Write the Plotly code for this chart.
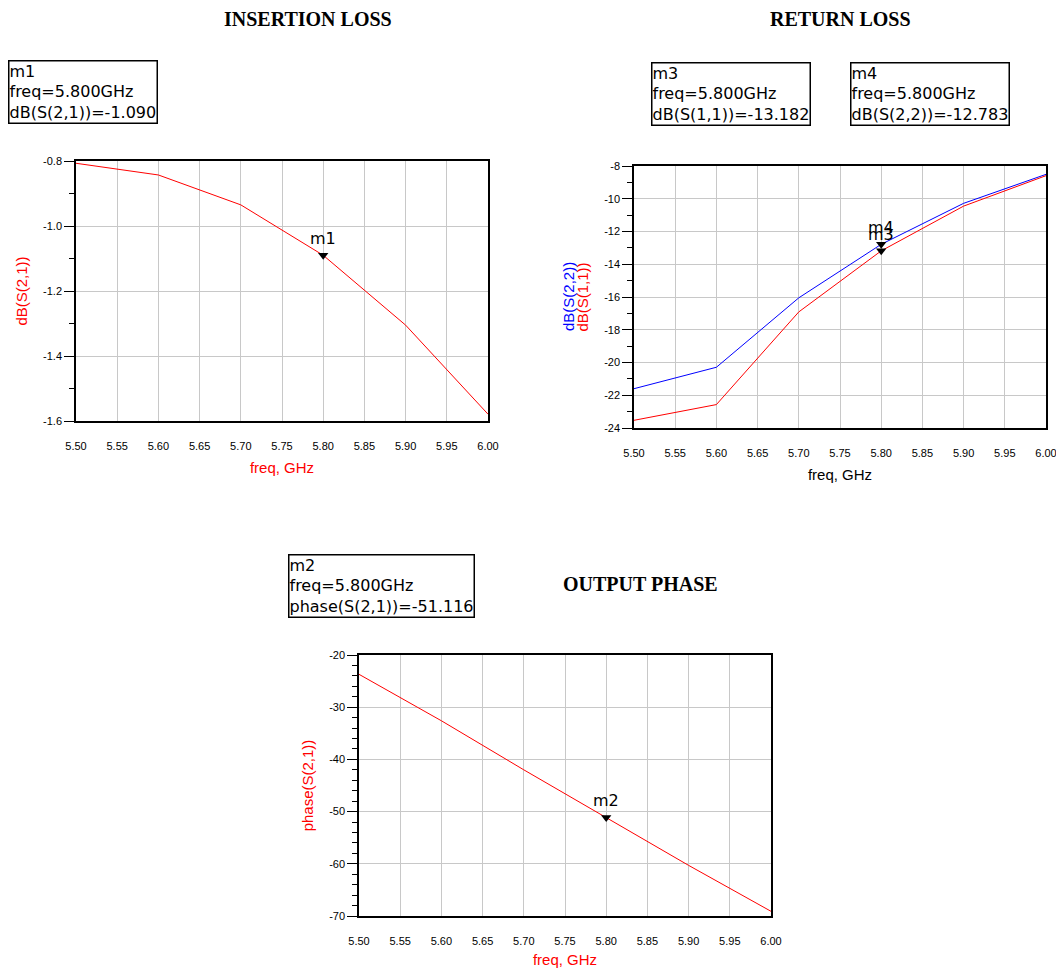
import plotly.graph_objects as go

# ---------------- data ----------------
freq = [5.50, 5.60, 5.70, 5.80, 5.90, 6.00]
dB_S21 = [-0.807, -0.843, -0.935, -1.090, -1.305, -1.579]
dB_S11 = [-23.53, -22.57, -16.91, -13.182, -10.45, -8.59]
dB_S22 = [-21.60, -20.29, -16.05, -12.783, -10.28, -8.51]
phase_S21 = [-23.7, -32.6, -42.0, -51.116, -60.3, -69.1]

marker_freq = 5.80
m1_val = -1.090
m2_val = -51.116
m3_val = -13.182
m4_val = -12.783

x_ticks = [5.50, 5.55, 5.60, 5.65, 5.70, 5.75, 5.80, 5.85, 5.90, 5.95, 6.00]
y1_ticks = [-1.6, -1.4, -1.2, -1.0, -0.8]
y2_ticks = [-24, -22, -20, -18, -16, -14, -12, -10, -8]
y3_ticks = [-70, -60, -50, -40, -30, -20]

RED = "#ff0000"
BLUE = "#0000ff"
# page body has an 8px margin; figure is sized to fit inside the 1064x976 window
OFF = 8
W, H = 1064 - 2 * OFF, 976 - 2 * OFF

fig = go.Figure()

fig.add_trace(go.Scatter(x=freq, y=dB_S21, mode="lines", line=dict(color=RED, width=1),
                         xaxis="x", yaxis="y", showlegend=False))
fig.add_trace(go.Scatter(x=freq, y=dB_S22, mode="lines", line=dict(color=BLUE, width=1),
                         xaxis="x2", yaxis="y2", showlegend=False))
fig.add_trace(go.Scatter(x=freq, y=dB_S11, mode="lines", line=dict(color=RED, width=1),
                         xaxis="x2", yaxis="y2", showlegend=False))
fig.add_trace(go.Scatter(x=freq, y=phase_S21, mode="lines", line=dict(color=RED, width=1),
                         xaxis="x3", yaxis="y3", showlegend=False))

tri = dict(symbol="triangle-down", color="black", size=9)
fig.add_trace(go.Scatter(x=[marker_freq], y=[m1_val], mode="markers", marker=tri,
                         xaxis="x", yaxis="y", showlegend=False))
fig.add_trace(go.Scatter(x=[marker_freq, marker_freq], y=[m4_val, m3_val], mode="markers", marker=tri,
                         xaxis="x2", yaxis="y2", showlegend=False))
fig.add_trace(go.Scatter(x=[marker_freq], y=[m2_val], mode="markers", marker=tri,
                         xaxis="x3", yaxis="y3", showlegend=False))

tickfont = dict(family="Liberation Sans", size=11, color="black")
titlefont_red = dict(family="Liberation Sans", size=15, color=RED)
titlefont_black = dict(family="Liberation Sans", size=15, color="black")


def xaxis(domain, anchor, tfont):
    return dict(domain=domain, anchor=anchor, range=[5.5, 6.0], tickmode="array",
                tickvals=x_ticks, ticktext=["%.2f" % v for v in x_ticks],
                showgrid=True, gridcolor="#c8c8c8", gridwidth=1,
                showline=True, mirror=True, linecolor="black", linewidth=1.5,
                ticks="", ticklabelstandoff=14, tickfont=tickfont, zeroline=False,
                automargin=False, ticklabeloverflow="allow",
                title=dict(text="freq, GHz", font=tfont, standoff=12))


def yaxis(domain, anchor, rng, tickvals, fmt, minor_dtick, title, tfont):
    return dict(domain=domain, anchor=anchor, range=rng, tickmode="array",
                tickvals=tickvals, ticktext=[fmt % v for v in tickvals],
                showgrid=True, gridcolor="#c8c8c8", gridwidth=1,
                showline=True, mirror=True, linecolor="black", linewidth=1.5,
                ticks="outside", ticklen=10, tickwidth=1, tickcolor="black",
                minor=dict(tickmode="linear", tick0=rng[0], dtick=minor_dtick, ticks="outside",
                           ticklen=5, tickwidth=1, tickcolor="black", showgrid=False),
                tickfont=tickfont, zeroline=False, automargin=False,
                title=dict(text=title, font=tfont, standoff=12))


def px_x(p):
    return (p - OFF) / W


def px_y(p):
    return 1 - (p - OFF) / H


fig.update_layout(
    width=W, height=H,
    margin=dict(l=0, r=0, t=0, b=0),
    paper_bgcolor="white", plot_bgcolor="white",
    xaxis=xaxis([px_x(76), px_x(488)], "y", titlefont_red),
    yaxis=yaxis([px_y(421), px_y(161)], "x", [-1.6, -0.8], y1_ticks, "%.1f", 0.1, "dB(S(2,1))", titlefont_red),
    xaxis2=xaxis([px_x(634), px_x(1046)], "y2", titlefont_black),
    yaxis2=yaxis([px_y(428), px_y(166)], "x2", [-24, -8], y2_ticks, "%d", 1, "dB(S(1,1))", titlefont_red),
    xaxis3=xaxis([px_x(359), px_x(771)], "y3", titlefont_red),
    yaxis3=yaxis([px_y(916), px_y(655)], "x3", [-70, -20], y3_ticks, "%d", 2, "phase(S(2,1))", titlefont_red),
)

annotations = []

title_font = dict(family="Liberation Serif", size=20, color="black")
for txt, cx, cy in [("<b>INSERTION LOSS</b>", 308, 19),
                    ("<b>RETURN LOSS</b>", 840, 19),
                    ("<b>OUTPUT PHASE</b>", 640, 584)]:
    annotations.append(dict(text=txt, x=px_x(cx), y=px_y(cy), xref="paper", yref="paper",
                            xanchor="center", yanchor="middle", showarrow=False, font=title_font))

box_font = dict(family="DejaVu Sans", size=16, color="black")
for txt, lx, ty in [("m1<br>freq=5.800GHz<br>dB(S(2,1))=%.3f" % m1_val, 8, 60),
                    ("m3<br>freq=5.800GHz<br>dB(S(1,1))=%.3f" % m3_val, 651, 62),
                    ("m4<br>freq=5.800GHz<br>dB(S(2,2))=%.3f" % m4_val, 850, 62),
                    ("m2<br>freq=5.800GHz<br>phase(S(2,1))=%.3f" % m2_val, 288, 554)]:
    annotations.append(dict(text=txt, x=px_x(lx), y=px_y(ty), xref="paper", yref="paper",
                            xanchor="left", yanchor="top", align="left", showarrow=False,
                            font=box_font, bordercolor="black", borderwidth=1.5, borderpad=0,
                            bgcolor="white"))

mlab_font = dict(family="DejaVu Sans", size=16, color="black")
for name, xr, yr, val in [("m1", "x", "y", m1_val), ("m4", "x2", "y2", m4_val),
                          ("m3", "x2", "y2", m3_val), ("m2", "x3", "y3", m2_val)]:
    annotations.append(dict(text=name, x=marker_freq, y=val, xref=xr, yref=yr,
                            xanchor="center", yanchor="bottom", yshift=5, showarrow=False,
                            font=mlab_font))

annotations.append(dict(text="dB(S(2,2))", x=px_x(568), y=px_y(297), xref="paper", yref="paper",
                        xanchor="center", yanchor="middle", textangle=-90, showarrow=False,
                        font=dict(family="Liberation Sans", size=15, color=BLUE)))

fig.update_layout(annotations=annotations)

fig.write_html("out.html")
